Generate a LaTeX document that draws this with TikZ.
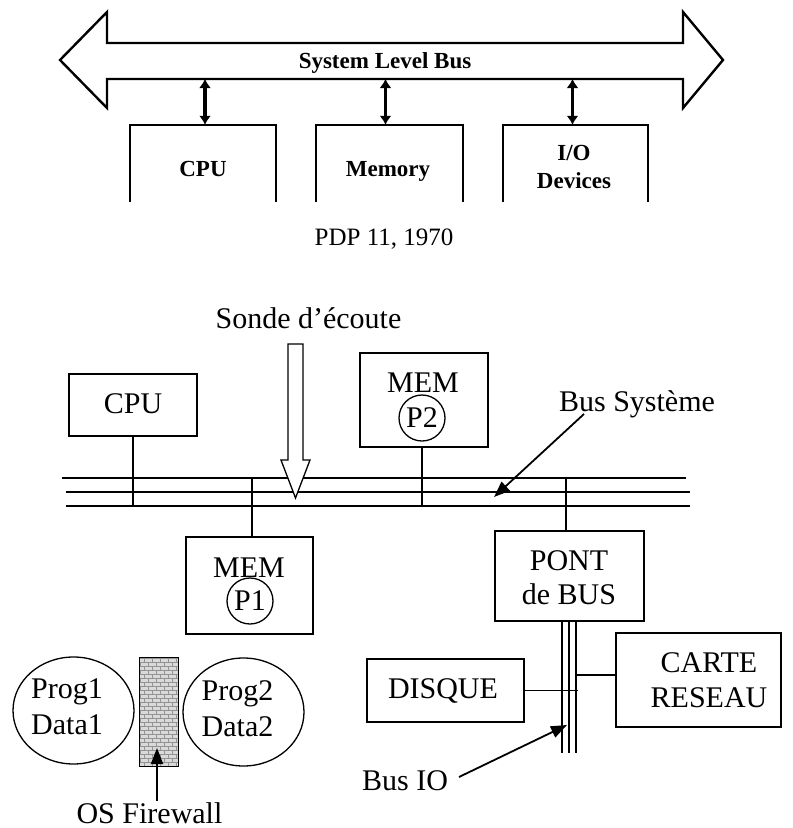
\documentclass[tikz,border=0pt]{standalone}
\usepackage{fontspec}
\newfontfamily\tnr{Liberation Serif}
\usetikzlibrary{arrows.meta,shapes.geometric}
\begin{document}
\begin{tikzpicture}[x=1pt,y=-1pt,
  lbl/.style={font=\tnr\fontsize{30}{34}\selectfont, inner sep=0pt, anchor=base},
  tlbl/.style={font=\tnr\bfseries\fontsize{23}{30}\selectfont, inner sep=0pt, anchor=base},
  box/.style={draw, line width=1.3pt, inner sep=0pt},
  tbox/.style={line width=2.4pt},
  plain/.style={inner sep=0pt},
  wire/.style={line width=1.3pt},
  dbl/.style={line width=3.2pt, {Latex[length=9pt,width=12pt]}-{Latex[length=9pt,width=12pt]}},
  pointer/.style={line width=1.8pt, -{Triangle[length=16pt,width=12pt]}},
  brick/.style={gray!85, line width=0.5pt}]
\fill[white] (0,0) rectangle (793,828);
\useasboundingbox (0,0) rectangle (793,828);

% ---------------- top: PDP 11 ----------------
\draw[line width=2.4pt, line join=miter, fill=white]
  (60,60) -- (107,12) -- (107,43) -- (683,43) -- (683,12) -- (723,60)
  -- (683,108) -- (683,79) -- (107,79) -- (107,108) -- cycle;
\coordinate (tbusb) at (0,79);
\node[tlbl] (tbus) at (385,68) {System Level Bus};

\node[plain, minimum width=146pt, minimum height=77pt] (tcpu) at (203,163.5) {};
\node[plain, minimum width=147pt, minimum height=77pt] (tmem) at (389.5,163.5) {};
\node[plain, minimum width=145pt, minimum height=77pt] (tio) at (575.5,163.5) {};
\foreach \b in {tcpu,tmem,tio}{
  \draw[tbox] (\b.south west) -- (\b.north west) -- (\b.north east) -- (\b.south east);
}
\node[tlbl] (tcput) at (203,176) {CPU};
\node[tlbl] (tmemt) at (388,176) {Memory};
\node[tlbl] (tiot1) at (574,160) {I/O};
\node[tlbl] (tiot2) at (574,188) {Devices};

\draw[dbl] ([xshift=2pt]tcpu.north |- tbusb) -- ([xshift=2pt]tcpu.north);
\draw[dbl] ([xshift=-4pt]tmem.north |- tbusb) -- ([xshift=-4pt]tmem.north);
\draw[dbl] ([xshift=-3pt]tio.north |- tbusb) -- ([xshift=-3pt]tio.north);

\node[font=\tnr\fontsize{25}{28}\selectfont, inner sep=0pt, anchor=base] (pdp) at (384,245) {PDP 11, 1970};

% ---------------- bottom ----------------
% system bus
\coordinate (busTL) at (62,478);  \coordinate (busTR) at (686,478);
\coordinate (busML) at (66,492);  \coordinate (busMR) at (690,492);
\coordinate (busBL) at (66,506);  \coordinate (busBR) at (690,506);
\draw[wire] (busTL) -- (busTR);
\draw[wire] (busML) -- (busMR);
\draw[wire] (busBL) -- (busBR);

% boxes
\node[box, minimum width=128pt, minimum height=62pt] (cpu) at (133,405) {};
\node[lbl] (cput) at (133,413) {CPU};

\node[box, minimum width=128pt, minimum height=94pt] (mem2) at (424,400) {};
\node[lbl] (mem2t) at (423,392) {MEM};
\node[draw, circle, line width=1.3pt, minimum size=46pt, inner sep=0pt,
      font=\tnr\fontsize{30}{34}\selectfont] (p2) at (422,418) {P2};

\node[box, minimum width=127pt, minimum height=97pt] (mem1) at (249.5,585.5) {};
\node[lbl] (mem1t) at (249,577) {MEM};
\node[draw, circle, line width=1.3pt, minimum size=46pt, inner sep=0pt,
      font=\tnr\fontsize{30}{34}\selectfont] (p1) at (250,601) {P1};

\node[box, minimum width=149pt, minimum height=90pt] (pont) at (569.5,576) {};
\node[lbl] (pontt1) at (569,570) {PONT};
\node[lbl] (pontt2) at (569,604) {de BUS};

\node[box, minimum width=157pt, minimum height=63pt] (disque) at (445.5,690.5) {};
\node[lbl] (disquet) at (443,698) {DISQUE};

\node[box, minimum width=165pt, minimum height=94pt] (carte) at (698.5,680) {};
\node[lbl] (cartet1) at (709,672) {CARTE};
\node[lbl] (cartet2) at (709,707) {RESEAU};

% connectors to system bus
\draw[wire] (cpu.south) -- (cpu.south |- busBL);
\draw[wire] ([xshift=2.5pt]mem1.north) -- ([xshift=2.5pt]mem1.north |- busTL);
\draw[wire] ([xshift=-2pt]mem2.south) -- ([xshift=-2pt]mem2.south |- busBL);
\draw[wire] ([xshift=-3.5pt]pont.north) -- ([xshift=-3.5pt]pont.north |- busTL);

% IO bus
\coordinate (iobot) at (0,753);
\draw[wire] ([xshift=-7.5pt]pont.south) -- ([xshift=-7.5pt]pont.south |- iobot);
\draw[wire] ([xshift=-0.5pt]pont.south) -- ([xshift=-0.5pt]pont.south |- iobot);
\draw[wire] ([xshift=6.5pt]pont.south) -- ([xshift=6.5pt]pont.south |- iobot);
\coordinate (iorail) at (578,0);
\draw[wire] (disque.east) -- (disque.east -| iorail);
\coordinate (iorail2) at (576,0);
\draw[wire] ([yshift=5pt]carte.west) -- ([yshift=5pt]carte.west -| iorail2);

% probe arrow
\node[lbl] (sonde) at (308.5,328) {Sonde d’écoute};
\draw[wire, fill=white, line join=miter]
  (288,344) -- (303,344) -- (303,460) -- (310,460) -- (295.5,498)
  -- (281,460) -- (288,460) -- cycle;

% bus systeme label
\node[lbl] (bussys) at (637,411) {Bus Système};
\coordinate (bsfrom) at (584,414);
\coordinate (bsto) at (494,497);
\draw[pointer] (bsfrom) -- (bsto);

% bus IO label
\node[lbl] (busio) at (405,790) {Bus IO};
\coordinate (biofrom) at (459,777);
\coordinate (bioto) at (567,725);
\draw[pointer] (biofrom) -- (bioto);

% programs and firewall
\node[draw, ellipse, line width=1.3pt, minimum width=121pt, minimum height=107pt, inner sep=0pt] (ell1) at (73.5,710.5) {};
\node[lbl] (prog1) at (67,698) {Prog1};
\node[lbl] (data1) at (67,734) {Data1};
\node[draw, ellipse, line width=1.3pt, minimum width=121pt, minimum height=108pt, inner sep=0pt] (ell2) at (243.5,712) {};
\node[lbl] (prog2) at (237.5,700) {Prog2};
\node[lbl] (data2) at (237.5,736) {Data2};

\node[fill=gray!30, minimum width=38pt, minimum height=108pt, inner sep=0pt] (fw) at (159,712) {};
\begin{scope}
  \clip (fw.north west) rectangle (fw.south east);
  \foreach \r in {0,...,27}{
    \draw[brick] (130,{658+4*\r}) -- (190,{658+4*\r});
    \foreach \c in {0,...,5}{
      \draw[brick] ({136+8*\c+4*mod(\r,2)},{658+4*\r}) -- ++(0,4);
    }
  }
\end{scope}
\draw[line width=1.3pt] (fw.north west) rectangle (fw.south east);

\node[lbl] (osfw) at (149.5,823) {OS Firewall};
\coordinate (fwfrom) at (157,801);
\coordinate (fwto) at (157,748);
\draw[pointer] (fwfrom) -- (fwto);
\end{tikzpicture}
\end{document}
